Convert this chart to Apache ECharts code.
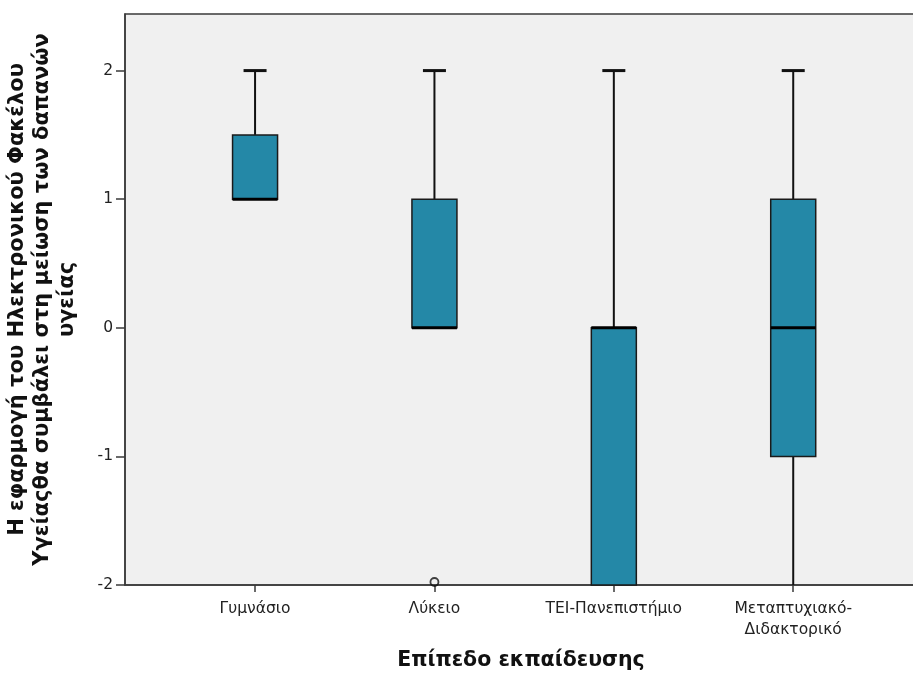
<!DOCTYPE html>
<html><head><meta charset="utf-8">
<script src="https://cdn.jsdelivr.net/npm/echarts@6/dist/echarts.min.js"></script>
<style>html,body{margin:0;padding:0;background:#fff}#c{width:913px;height:679px}</style>
</head><body><div id="c"></div>
<script>
var categories = ['Γυμνάσιο', 'Λύκειο', 'ΤΕΙ-Πανεπιστήμιο', 'Μεταπτυχιακό-\nΔιδακτορικό'];
var whiskerLow = [1, 0, -2, -2];
var q1 = [1, 0, -2, -1];
var median = [1, 0, 0, 0];
var q3 = [1.5, 1, 0, 1];
var whiskerHigh = [2, 2, 2, 2];
var outliers = [[2, -2]];
var yTicks = [-2, -1, 0, 1, 2];
var xTitle = 'Επίπεδο εκπαίδευσης';
var yTitle = 'Η εφαρμογή του Ηλεκτρονικού Φακέλου\nΥγείαςθα συμβάλει στη μείωση των δαπανών\nυγείας';

var Y_MIN = -2, Y_MAX = 2.44;
var boxData = categories.map(function (c, i) {
  return [i + 1, whiskerLow[i], q1[i], median[i], q3[i], whiskerHigh[i]];
});
var FONT = '"DejaVu Sans", sans-serif';
var chart = echarts.init(document.getElementById('c'));
chart.setOption({
  animation: false,
  grid: { left: 125, top: 14, width: 792, bottom: 94, containLabel: false, outerBoundsMode: 'none',
    show: true, backgroundColor: '#f0f0f0', borderColor: '#3a3a3a', borderWidth: 1.5 },
  xAxis: {
    type: 'value', min: 0.275, max: 4.69,
    name: xTitle, nameLocation: 'middle', nameGap: 65,
    nameTextStyle: { fontFamily: FONT, fontWeight: 'bold', fontSize: 20.5, color: '#111' },
    axisLine: { show: true, onZero: false, lineStyle: { color: '#3a3a3a', width: 1.5 } },
    axisTick: { show: true, length: 7, inside: false, customValues: [1, 2, 3, 4], lineStyle: { color: '#3a3a3a', width: 1.5 } },
    axisLabel: { customValues: [1, 2, 3, 4], margin: 13, fontFamily: FONT, fontSize: 15.5, color: '#222', lineHeight: 21,
      formatter: function (v) { return categories[Math.round(v) - 1] || ''; } },
    splitLine: { show: false }
  },
  yAxis: {
    type: 'value', min: Y_MIN, max: Y_MAX,
    name: yTitle, nameLocation: 'middle', nameGap: 45, nameRotate: 90,
    nameTextStyle: { fontFamily: FONT, fontWeight: 'bold', fontSize: 21, color: '#111', lineHeight: 25, align: 'center' },
    axisLine: { show: true, onZero: false, lineStyle: { color: '#3a3a3a', width: 1.5 } },
    axisTick: { show: true, length: 9, customValues: yTicks, lineStyle: { color: '#3a3a3a', width: 1.5 } },
    axisLabel: { customValues: yTicks, margin: 12, fontFamily: FONT, fontSize: 15.5, color: '#222' },
    splitLine: { show: false }
  },
  series: [
    {
      type: 'custom',
      data: boxData,
      clip: false,
      renderItem: function (params, api) {
        var x = api.value(0);
        var pLow = api.coord([x, api.value(1)]);
        var pQ1 = api.coord([x, api.value(2)]);
        var pMed = api.coord([x, api.value(3)]);
        var pQ3 = api.coord([x, api.value(4)]);
        var pHigh = api.coord([x, api.value(5)]);
        var boxW = 45, capW = 23;
        var cx = pQ1[0];
        var children = [];
        var wStyle = { stroke: '#111', lineWidth: 2 };
        var capStyle = { stroke: '#111', lineWidth: 3 };
        if (api.value(5) > api.value(4)) {
          children.push({ type: 'line', shape: { x1: cx, y1: pHigh[1], x2: cx, y2: pQ3[1] }, style: wStyle });
          children.push({ type: 'line', shape: { x1: cx - capW / 2, y1: pHigh[1], x2: cx + capW / 2, y2: pHigh[1] }, style: capStyle });
        }
        if (api.value(1) < api.value(2)) {
          children.push({ type: 'line', shape: { x1: cx, y1: pQ1[1], x2: cx, y2: pLow[1] }, style: wStyle });
          if (api.value(1) > Y_MIN) {
            children.push({ type: 'line', shape: { x1: cx - capW / 2, y1: pLow[1], x2: cx + capW / 2, y2: pLow[1] }, style: capStyle });
          }
        }
        children.push({ type: 'rect', shape: { x: cx - boxW / 2, y: pQ3[1], width: boxW, height: pQ1[1] - pQ3[1] },
          style: { fill: '#2488a7', stroke: '#1a1a1a', lineWidth: 1.5 } });
        children.push({ type: 'line', shape: { x1: cx - boxW / 2, y1: pMed[1], x2: cx + boxW / 2, y2: pMed[1] }, style: { stroke: '#000', lineWidth: 3 } });
        return { type: 'group', children: children };
      },
      z: 3
    },
    {
      type: 'scatter',
      data: outliers,
      clip: false,
      symbol: 'circle',
      symbolSize: 8,
      symbolOffset: [0, -3],
      itemStyle: { color: 'rgba(0,0,0,0)', borderColor: '#111', borderWidth: 1.8 },
      z: 4
    }
  ]
});
</script></body></html>
